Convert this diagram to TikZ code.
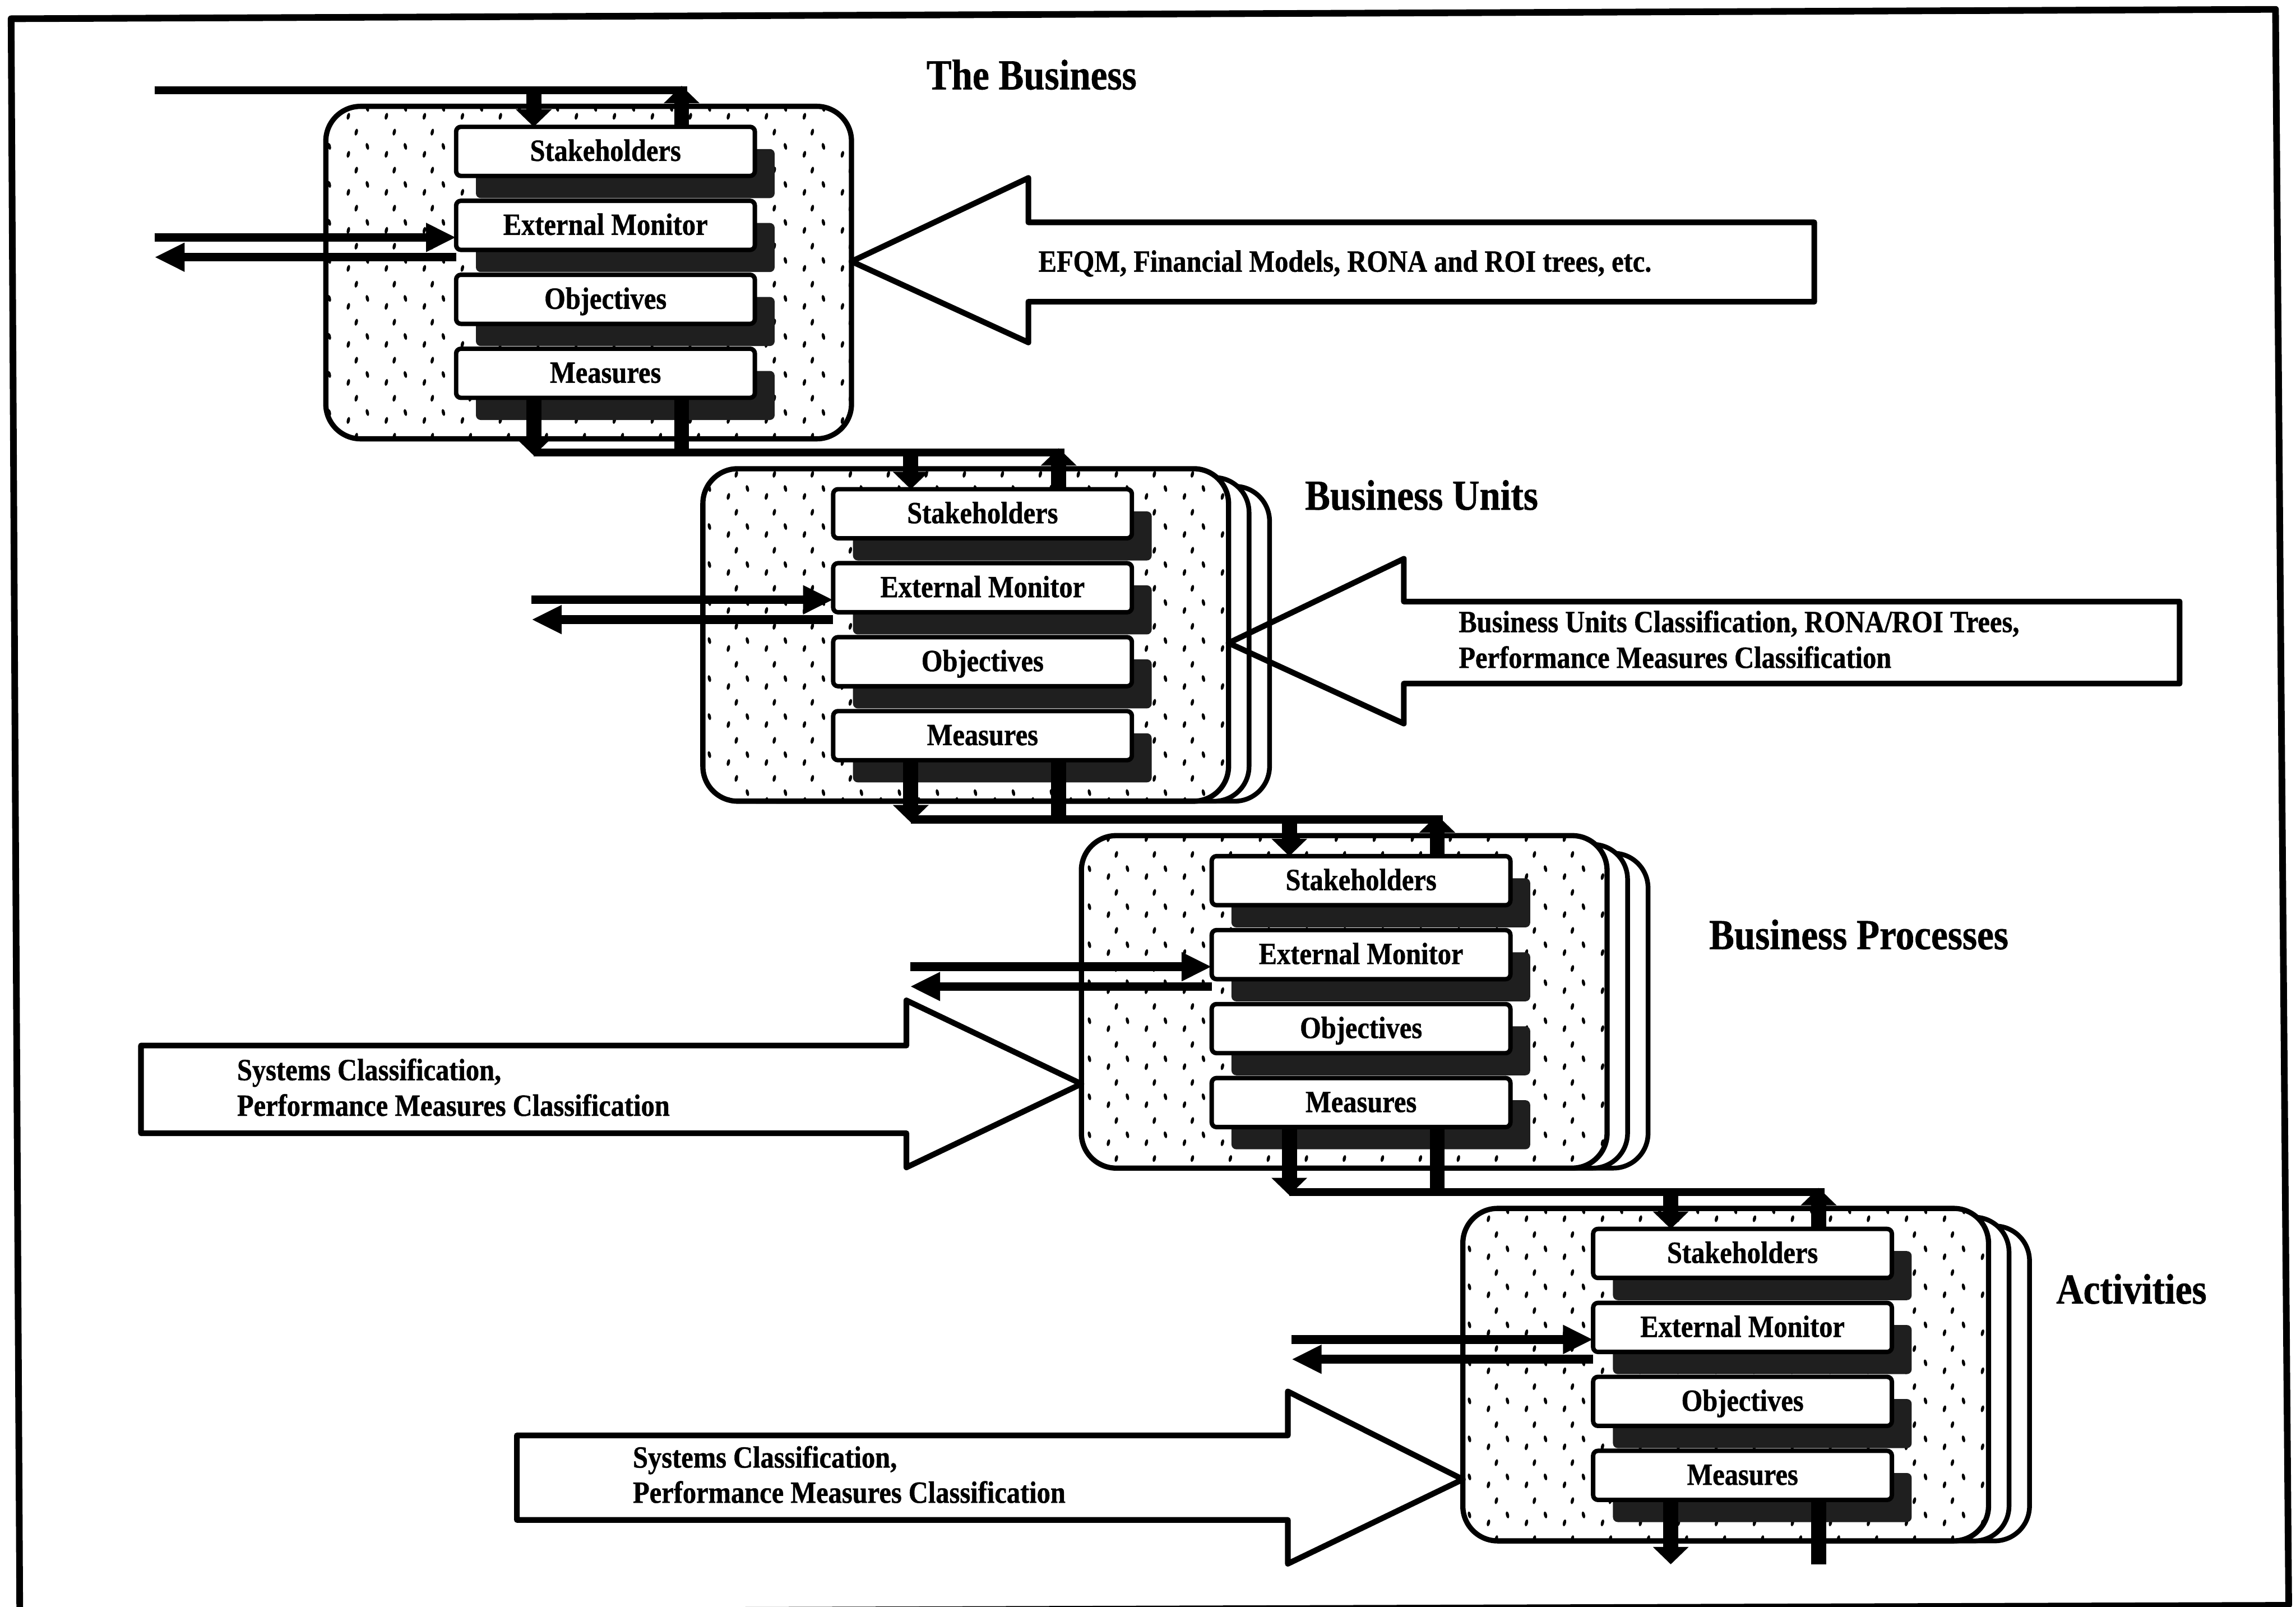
\documentclass[tikz,border=0pt]{standalone}
\usepackage{fontspec}
\setmainfont{Liberation Serif}[FakeStretch=0.88, BoldFeatures={FakeBold=0.8}]
\usetikzlibrary{arrows.meta,patterns,shadows,calc}
\pgfdeclarepatternformonly{stipple}{\pgfqpoint{-2pt}{-2pt}}{\pgfqpoint{26pt}{26pt}}{\pgfqpoint{24pt}{24pt}}{%
  \pgfpathellipse{\pgfqpoint{4pt}{5pt}}{\pgfqpoint{1pt}{0pt}}{\pgfqpoint{0.4pt}{2.2pt}}%
  \pgfpathellipse{\pgfqpoint{16pt}{10pt}}{\pgfqpoint{1pt}{0pt}}{\pgfqpoint{-0.4pt}{2.2pt}}%
  \pgfpathellipse{\pgfqpoint{9pt}{19pt}}{\pgfqpoint{1pt}{0pt}}{\pgfqpoint{0.4pt}{2.2pt}}%
  \pgfusepath{fill}%
}
\def\U{0.032506cm}
\tikzset{
  frameline/.style={line width=4.2pt},
  blockmain/.style={draw, line width=3.3pt, rounded corners=22pt, preaction={fill=white}, pattern=stipple,
    inner sep=0pt, outer sep=0pt, minimum width=359*\U, minimum height=227*\U},
  blockback/.style={draw, line width=3pt, rounded corners=22pt, fill=white},
  ibox/.style={draw, line width=2.8pt, fill=white, rounded corners=3pt, inner sep=0pt, outer sep=0pt,
    minimum width=204*\U, minimum height=33.5*\U, text height=12pt, text depth=0pt,
    font=\fontsize{19.5}{22.5}\selectfont\bfseries,
    general shadow={fill=black!88, shadow xshift=12.5pt, shadow yshift=-14pt}},
  lbl/.style={inner sep=0pt, anchor=base west, font=\fontsize{19.5}{22.5}\selectfont\bfseries},
  ttl/.style={inner sep=0pt, font=\fontsize{27}{30}\selectfont\bfseries},
  vline/.style={line width=9.5pt},
  vdown/.style={vline, -{Triangle[width=22pt,length=11pt]}},
  emline/.style={line width=5.5pt, -{Triangle[width=17pt,length=19pt]}},
  bus/.style={line width=5pt},
  bigarrow/.style={line width=3.6pt}
}
\newcommand\mkblock[4]{%
  \ifnum#4=1
    \draw[blockback] ({#2+28},{#3+12}) rectangle ({#2+387},{#3+227});
    \draw[blockback] ({#2+14},{#3+6}) rectangle ({#2+373},{#3+227});
  \fi
  \node[blockmain] (blk#1) at ({#2+179.5},{#3+113.5}) {};
  \node[ibox] (s#1) at ({#2+191},{#3+30.75}) {Stakeholders};
  \node[ibox] (e#1) at ({#2+191},{#3+81.25}) {External Monitor};
  \node[ibox] (o#1) at ({#2+191},{#3+131.75}) {Objectives};
  \node[ibox] (m#1) at ({#2+191},{#3+182.25}) {Measures};
  \coordinate (xa#1) at ({#2+142},{#3});
  \coordinate (xb#1) at ({#2+243},{#3});
  \coordinate (top#1) at ({#2},{#3-11});
  \coordinate (tip#1) at ({#2+243},{#3-14});
  \coordinate (emin#1) at ({#2-117},{#3+89.5});
  \coordinate (emout#1) at ({#2-117},{#3+103});
  \draw[vdown] (xa#1 |- top#1) -- (s#1.north -| xa#1);
  \draw[vdown] (s#1.north -| xb#1) -- (tip#1);
  \draw[emline] (emin#1) -- (e#1.west |- emin#1);
  \draw[emline] (e#1.west |- emout#1) -- (emout#1);
}
\begin{document}
\begin{tikzpicture}[x=0.032506cm, y=-0.032506cm, line join=round]
\useasboundingbox (0,0) rectangle (1568,1097);
\fill[white] (0,0) rectangle (1568,1097);
% frame
\draw[frameline] (7.6,12.8) -- (1554,6.4) -- (1563,1096) -- (13.5,1101) -- cycle;

% blocks
\mkblock{1}{222.5}{72.6}{0}
\mkblock{2}{480}{320}{1}
\mkblock{3}{738.5}{570.5}{1}
\mkblock{4}{999}{825}{1}

% buses
\draw[bus] (emin1 |- top1) -- ($(xb1 |- top1)+(4,0)$);
\draw[bus] (xa1 |- top2) -- ($(xb2 |- top2)+(4,0)$);
\draw[bus] (xa2 |- top3) -- ($(xb3 |- top3)+(4,0)$);
\draw[bus] (xa3 |- top4) -- ($(xb4 |- top4)+(4,0)$);
% links from block bottoms
\draw[vdown] (m1.south -| xa1) -- ($(xa1 |- top2)+(0,2)$);
\draw[vline] (m1.south -| xb1) -- (xb1 |- top2);
\draw[vdown] (m2.south -| xa2) -- ($(xa2 |- top3)+(0,2)$);
\draw[vline] (m2.south -| xb2) -- (xb2 |- top3);
\draw[vdown] (m3.south -| xa3) -- ($(xa3 |- top4)+(0,2)$);
\draw[vline] (m3.south -| xb3) -- (xb3 |- top4);
\coordinate (end4) at (0,1068);
\draw[vdown] (m4.south -| xa4) -- (xa4 |- end4);
\draw[vline] (m4.south -| xb4) -- (xb4 |- end4);

% big arrows
\coordinate (a1c) at (0,178.5);
\coordinate (a2c) at (0,439);
\coordinate (a3c) at (0,740);
\coordinate (a4c) at (0,1010);
\draw[bigarrow] (blk1.east |- a1c) -- (702.3,121.5) -- (702.3,151.8) -- (1239,151.8) -- (1239,206) -- (702.3,206) -- (702.3,233.8) -- cycle;
\draw[bigarrow] (blk2.east |- a2c) -- (958.7,381.5) -- (958.7,410.7) -- (1488.5,410.7) -- (1488.5,466.7) -- (958.7,466.7) -- (958.7,494) -- cycle;
\draw[bigarrow] (96.3,713.8) -- (619,713.8) -- (619,683) -- (blk3.west |- a3c) -- (619,797) -- (619,773.7) -- (96.3,773.7) -- cycle;
\draw[bigarrow] (353,980) -- (879.5,980) -- (879.5,950) -- (blk4.west |- a4c) -- (879.5,1067.6) -- (879.5,1037.7) -- (353,1037.7) -- cycle;

% arrow texts
\node[lbl] (t1) at (709,185.5) {EFQM, Financial Models, RONA and ROI trees, etc.};
\node[lbl] (t2a) at (996,431.6) {Business Units Classification, RONA/ROI Trees,};
\node[lbl] (t2b) at (996,456) {Performance Measures Classification};
\node[lbl] (t3a) at (161.7,737.5) {Systems Classification,};
\node[lbl] (t3b) at (161.7,761.8) {Performance Measures Classification};
\node[lbl] (t4a) at (432,1002) {Systems Classification,};
\node[lbl] (t4b) at (432,1026) {Performance Measures Classification};

% titles
\node[ttl, anchor=base] (h1) at (704.5,61) {The Business};
\node[ttl, anchor=base west] (h2) at (891,348) {Business Units};
\node[ttl, anchor=base west] (h3) at (1167,648) {Business Processes};
\node[ttl, anchor=base west] (h4) at (1404,890) {Activities};
\end{tikzpicture}
\end{document}
